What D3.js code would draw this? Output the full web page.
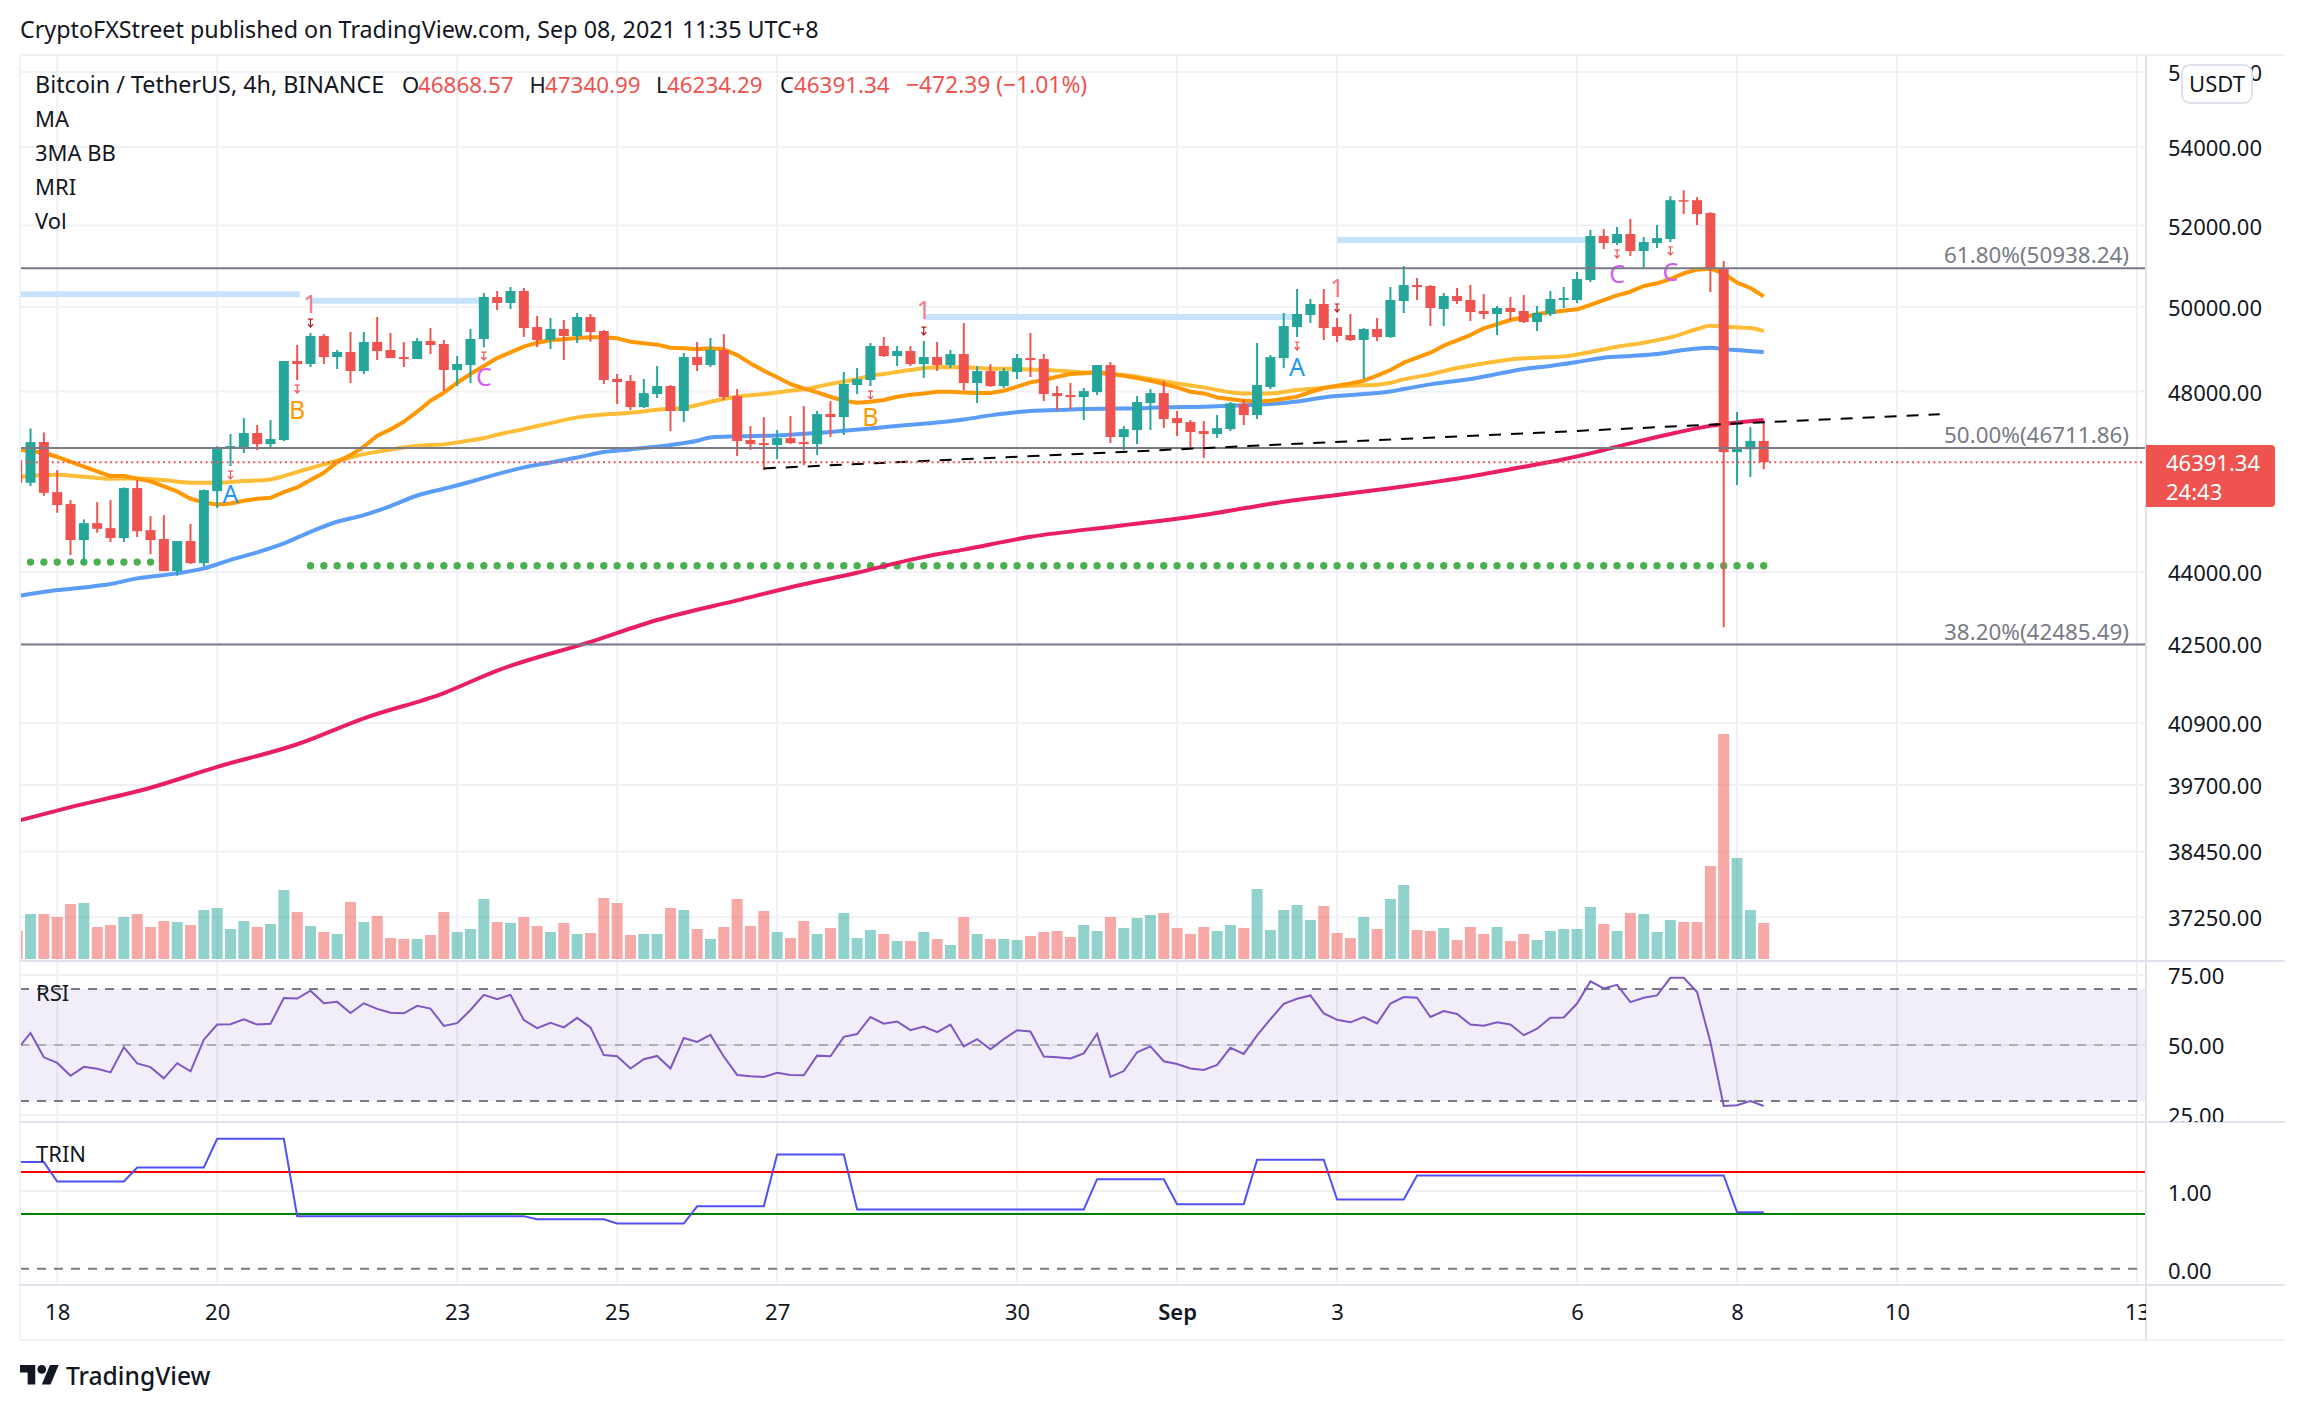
<!DOCTYPE html>
<html><head><meta charset="utf-8">
<script src="https://cdn.jsdelivr.net/npm/d3@7/dist/d3.min.js"></script>
<style>html,body{margin:0;background:#fff}svg{display:block}text{font-family:"Noto Sans",sans-serif}</style>
</head><body><svg id="c" width="2306" height="1410"></svg>
<script>
// ---- data (bars start at index -1, 4h bars)
const firstBar=-1;
const opens=[46437,45933,46844,45726,45463,44680,45047,44938,44723,45815,44895,44702,44017,44659,44186,45748,46738,46708,47047,46798,46889,48710,48640,49302,48804,48923,48476,49160,48970,48804,48757,49183,49112,48500,48616,49231,50238,50093,50383,49515,49207,49468,49302,49756,49420,48290,48243,47641,47940,48126,47550,48804,48616,48970,47894,46889,46821,46776,46934,46844,46798,47481,47412,48150,48266,49065,48828,48946,48640,48804,48616,48875,48196,48476,48126,48453,48780,48757,47963,47917,47871,47986,48616,46957,47115,47733,47963,47389,47297,47092,47024,47137,47710,47458,48103,48780,49515,49804,50069,49515,49325,49207,49468,49278,50141,50530,50506,49949,50262,50165,49900,49828,49973,49900,49635,49828,50165,50165,50652,51737,51563,51788,51365,51563,51662,52640,52640,52314,50946,46618,46678,46868.57];
const highs=[46480,47152,47062,46215,45550,45127,45506,45550,45829,45992,45200,45222,44659,45032,45785,46749,47024,47389,47229,47343,48710,49088,49373,49349,48970,49397,49397,49756,49373,49160,49254,49491,49207,48828,49468,50334,50383,50481,50457,49780,49732,49684,49852,49828,49444,48406,48383,48290,48593,48150,48899,49160,49254,49349,48056,47206,47412,47115,47435,47664,47550,47779,48453,48546,49136,49278,49065,49065,49183,49160,48970,49611,48593,48640,48546,48875,49373,48875,48126,48196,48080,48616,48686,47206,47894,48056,48243,47550,47343,47320,47458,47756,47825,49136,48851,49852,50432,50190,50432,49732,49828,49491,49732,50481,50995,50701,50530,50334,50457,50530,50310,50021,50238,50286,50021,50383,50481,50848,51888,51913,51963,52168,51712,52013,52741,52893,52717,52339,51117,47527,47182,47340.99];
const lows=[45900,45859,45645,45273,44357,44165,44838,44637,44637,44745,44379,44017,43918,44165,44116,45375,46304,46595,46663,46730,46866,48266,48570,48640,48523,48196,48406,48733,48780,48570,48757,48875,48010,48126,48196,49033,49925,49949,49278,49041,48994,48733,49136,49168,48173,47710,47572,47618,47848,47092,47297,48476,48570,47802,46527,46663,46215,46460,46798,46326,46550,46957,47002,47940,48126,48804,48593,48593,48313,48476,48546,48033,47733,48103,48080,48290,48336,47779,47572,47595,47343,47917,46821,46663,46798,47115,47160,46979,46685,46482,46934,47092,47229,47366,48056,48546,49278,49611,49207,49160,49183,48290,49183,49254,49852,50165,49539,49539,50069,49660,49708,49325,49684,49611,49420,49780,49973,50093,50603,51413,51513,51241,50946,51439,51588,52289,52013,50358,42843,45881,46059,46234.29];
const closes=[45933,46844,45711,45441,44680,45047,44924,44723,45815,44874,44680,44017,44659,44186,45770,46704,46753,47047,46798,46911,48710,48640,49302,48804,48923,48476,49160,48946,48780,48757,49183,49088,48500,48640,49231,50238,50093,50383,49491,49207,49468,49302,49756,49397,48266,48220,47641,47963,48126,47550,48804,48616,48970,47871,46866,46798,46776,46934,46821,46798,47481,47412,48173,48290,49065,48828,48946,48640,48804,48616,48875,48196,48476,48126,48476,48780,48733,47940,47894,47871,48010,48616,46957,47137,47756,47963,47366,47274,47070,47024,47160,47726,47458,48150,48804,49539,49828,50069,49491,49302,49207,49468,49278,50165,50530,50481,49973,50262,50141,49876,49828,49973,49876,49635,49852,50190,50214,50677,51737,51563,51788,51365,51588,51687,52640,52616,52289,50922,46618,46685,46868.57,46391.34];
const volumes=[28,45,45,42,55,56,32,34,42,45,32,38,37,34,49,51,30,38,32,35,69,47,33,27,25,57,37,43,21,20,20,24,47,27,30,60,37,36,42,33,27,36,25,26,61,56,24,25,25,51,49,30,20,32,60,33,48,27,21,38,25,31,46,21,29,25,18,18,27,20,14,42,25,20,20,19,23,27,28,22,34,28,42,31,41,44,46,31,25,32,28,34,31,70,29,49,54,39,53,26,21,42,30,60,74,29,28,31,19,32,25,32,18,25,19,28,30,30,52,35,28,46,45,27,39,37,37,93,225,101,49,36];
const fastBars=[-1,1,2,4,6,7,9,11,12,13,14,15,16,17,18,19,20,21,22,23,24,25,26,27,28,29,30,31,32,33,34,35,36,37,38,39,40,41,42,43,44,45,46,47,48,49,50,51,52,53,54,55,56,57,58,59,60,61,62,63,64,65,66,67,68,69,70,71,72,73,74,75,76,77,78,79,80,81,82,83,84,85,86,87,88,89,91,92,93,95,96,97,99,100,101,102,103,105,106,108,109,111,112,113,114,115,116,117,118,119,120,121,122,123,124,125,126,127,128,129,130];
const fastMA=[46678,46603,46512,46289,46081,46081,45963,45741,45579,45499,45455,45477,45536,45579,45601,45726,45829,45992,46155,46393,46550,46738,46987,47130,47305,47534,47787,47971,48204,48406,48593,48780,48915,49049,49144,49199,49223,49254,49270,49270,49246,49168,49128,49097,49025,49010,48986,49010,48986,48851,48655,48484,48329,48173,48072,47979,47879,47787,47741,47764,47802,47879,47924,47955,47994,47994,47979,47963,47963,48017,48111,48212,48266,48344,48406,48422,48453,48406,48367,48313,48251,48173,48095,47994,47955,47863,47787,47771,47787,47879,47986,48080,48188,48251,48367,48500,48671,48907,49073,49325,49484,49684,49748,49828,49868,49908,49941,50045,50165,50278,50367,50506,50571,50677,50816,50905,50930,50816,50587,50457,50253];
const midBars=[-1,1,2,4,6,8,10,12,14,16,18,19,20,21,22,23,24,25,26,28,30,31,32,33,34,35,37,39,41,43,44,45,47,49,50,51,53,55,57,58,59,60,62,63,64,66,68,70,72,74,76,78,80,82,84,86,88,89,91,93,95,97,99,101,102,103,105,107,109,111,113,115,117,119,121,123,125,126,127,129,130];
const midMA=[46052,46104,46111,46067,46022,46029,45992,45933,45933,45970,46007,46081,46170,46259,46341,46422,46497,46572,46625,46723,46776,46791,46836,46881,46934,47009,47137,47274,47404,47473,47488,47511,47580,47626,47687,47764,47879,47940,48017,48049,48111,48173,48290,48367,48406,48500,48562,48562,48531,48523,48500,48468,48422,48383,48290,48188,48095,48033,47955,47955,48033,48087,48134,48157,48204,48282,48398,48546,48655,48749,48788,48820,48923,49049,49144,49270,49468,49547,49523,49491,49420];
const slowBars=[-1,2,4,6,8,11,13,15,17,19,21,23,25,27,29,31,33,35,37,39,41,43,45,48,50,51,53,56,59,61,63,66,68,70,72,75,77,79,81,83,85,88,91,93,95,97,100,102,103,105,108,110,112,114,116,118,120,122,124,126,127,130];
const slowMA=[43489,43615,43671,43742,43862,43968,44074,44257,44415,44608,44859,45077,45222,45419,45652,45800,45955,46126,46274,46385,46497,46618,46678,46776,46874,46949,46972,46994,47047,47099,47152,47236,47289,47358,47450,47550,47572,47595,47603,47611,47634,47649,47680,47710,47771,47863,47940,48002,48056,48165,48290,48406,48523,48593,48686,48788,48828,48875,48970,49025,48994,48923];
const longBars=[-1,3,9,14,20,25,31,35,42,47,53,58,62,65,67,70,75,82,88,91,94,98,102,105,108,111,115,118,120,123,126,130];
const longMA=[39020,39280,39650,40050,40490,41000,41503,41955,42540,42990,43400,43738,43981,44192,44319,44475,44750,45000,45224,45370,45515,45663,45812,45936,46070,46234,46456,46662,46815,47027,47210,47347];
const rsiValues=[48.4,54.3,45.6,43.6,39.0,42.2,41.5,40.2,49.2,43.4,42.1,38.1,43.5,40.6,51.9,57.3,57.4,59.2,57.3,57.6,66.8,66.6,69.4,64.9,65.4,61.4,64.9,62.9,61.5,61.3,64.0,63.0,56.8,57.8,62.5,67.9,66.4,67.9,58.9,56.0,57.9,56.3,59.7,56.3,46.4,46.0,41.6,44.9,46.1,41.6,52.5,51.1,53.6,45.9,39.3,38.8,38.6,40.1,39.3,39.2,46.2,46.0,52.9,53.9,60.0,57.6,58.4,55.3,56.6,54.6,57.3,49.5,52.1,48.5,52.1,55.3,54.8,45.9,45.6,45.2,47.0,54.0,38.6,40.7,47.4,49.5,44.2,43.2,41.6,41.1,42.9,49.0,46.8,53.4,59.2,64.7,66.5,67.7,61.3,59.0,58.1,60.0,57.7,64.8,67.1,66.9,60.0,62.1,61.1,57.3,56.9,58.1,57.3,53.5,55.8,59.7,59.8,64.8,72.7,70.2,71.5,65.3,66.9,67.7,74.0,74.0,68.9,51.1,28.2,28.5,30.0,28.2];
const trinValues=[1.37,1.37,1.37,1.12,1.12,1.12,1.12,1.12,1.12,1.30,1.30,1.30,1.30,1.30,1.30,1.67,1.67,1.67,1.67,1.67,1.67,.676,.676,.676,.676,.676,.676,.676,.676,.676,.676,.676,.676,.676,.676,.676,.676,.676,.676,.635,.635,.635,.635,.635,.635,.581,.581,.581,.581,.581,.581,.802,.802,.802,.802,.802,.802,1.468,1.468,1.468,1.468,1.468,1.468,.761,.761,.761,.761,.761,.761,.761,.761,.761,.761,.761,.761,.761,.761,.761,.761,.761,.761,1.15,1.15,1.15,1.15,1.15,1.15,.83,.83,.83,.83,.83,.83,1.40,1.40,1.40,1.40,1.40,1.40,.89,.89,.89,.89,.89,.89,1.198,1.198,1.198,1.198,1.198,1.198,1.198,1.198,1.198,1.198,1.198,1.198,1.198,1.198,1.198,1.198,1.198,1.198,1.198,1.198,1.198,1.198,1.198,1.198,.727,.727,.727];
const priceTicks=[56000,54000,52000,50000,48000,44000,42500,40900,39700,38450,37250];
const rsiTicks=[75,50,25], rsiLevels=[70,50,30];
const trinTicks=[1,0], trinHigh=1.243, trinLow=.703;
const dateBars=[2,14,32,44,56,74,86,98,116,128,140,158];
const dateLabels=["18","20","23","25","27","30","Sep","3","6","8","10","13"];
const fibLabels=["61.80%(50938.24)","50.00%(46711.86)","38.20%(42485.49)"];
const fibPrices=[50938.24,46711.86,42485.49];
const lastPrice=46391.34, lastOpen=46868.57;
const resistBars=[[-1,20.2],[21,34],[67,95],[98,117]];
const resistPrices=[50302,50149,49756,51638];
const dotsBarsA=[0,9], dotsPriceA=44208, dotsBarsB=[21,130], dotsPriceB=44130;
const trendBars=[55,143.2], trendPrices=[46252,47477];
const markTexts=["1","B","A","C","1","B","1","A","C","C"];
const markBars=[21,20,15,34,67,63,98,95,119,123];
const markPrices=[50069,47572,45681,48336,49925,47412,50457,48570,50799,50848];
const markColors=["#ef7b8a","#ff9800","#2196f3","#d35cf5","#ef7b8a","#ff9800","#ef7b8a","#2196f3","#d35cf5","#d35cf5"];
const arrowPrices=[49611,48056,46104,48828,49420,47917,49973,49065,51290,51365];
const arrowColors=["#b71c1c","#ef5350","#ef5350","#ef5350","#b71c1c","#ef5350","#b71c1c","#ef5350","#ef5350","#ef5350"];
const legendRows=["MA","3MA BB","MRI","Vol"];

// ---- layout
const L=20,R=2146,FR=2285,T=56,P1=961,P2=1122,P3=1285,B=1340;
const GRID="#f0f1f4",SEP="#e0e3eb",INK="#131722",GRAY="#787b86",UP="#26a69a",DN="#ef5350";
const x=d3.scaleLinear().domain([2,158]).range([57.2,2137]);
const y=d3.scaleLog().domain([54000,42500]).range([147.3,643.8]);
const yV=d3.scaleLinear().domain([0,225]).range([959,734]);
const yR=d3.scaleLinear().domain([30,70]).range([1101,989]);
const yT=d3.scaleLinear().domain([0,1]).range([1268.8,1190.9]);
const bars=d3.range(opens.length).map(k=>({i:k+firstBar,o:opens[k],h:highs[k],l:lows[k],c:closes[k],v:volumes[k],up:closes[k]>=opens[k]}));
const svg=d3.select("#c");
const defs=svg.append("defs");
const clip=(id,x0,y0,x1,y1)=>defs.append("clipPath").attr("id",id).append("rect").attr("x",x0).attr("y",y0).attr("width",x1-x0).attr("height",y1-y0);
clip("main",L,T,R,P1);clip("rsi",L,P1,R,P2);clip("trin",L,P2,R,P3);clip("axR",0,P1,200,P2);clip("axX",L,P3,R,B);
const hl=(g,yy,c,w,dash,x0=L,x1=R)=>g.append("line").attr("x1",x0).attr("x2",x1).attr("y1",yy).attr("y2",yy).attr("stroke",c).attr("stroke-width",w).attr("stroke-dasharray",dash||null);
svg.append("text").attr("x",20).attr("y",38).attr("font-size",23.3).attr("fill",INK).text("CryptoFXStreet published on TradingView.com, Sep 08, 2021 11:35 UTC+8");

// grid
const grid=svg.append("g");
dateBars.forEach(d=>grid.append("line").attr("x1",x(d)).attr("x2",x(d)).attr("y1",T).attr("y2",P3).attr("stroke",GRID).attr("stroke-width",2));
priceTicks.forEach(p=>hl(grid,y(p),GRID,2));
rsiTicks.forEach(v=>hl(grid,yR(v),GRID,2));
hl(grid,yT(1),GRID,2);

// main pane
const m=svg.append("g").attr("clip-path","url(#main)");
m.selectAll("rect.vol").data(bars).join("rect").attr("class","vol").attr("x",d=>x(d.i)-5.5).attr("width",11).attr("y",d=>yV(d.v)).attr("height",d=>yV(0)-yV(d.v)).attr("fill",d=>d.up?UP:DN).attr("opacity",.5);
resistBars.forEach((r,k)=>m.append("line").attr("x1",x(r[0])).attr("x2",x(r[1])).attr("y1",y(resistPrices[k])).attr("y2",y(resistPrices[k])).attr("stroke","#c6e3fb").attr("stroke-width",6));
const dotGroup=(range,p)=>m.selectAll(null).data(d3.range(range[0],range[1]+1)).join("circle").attr("cx",d=>x(d)).attr("cy",y(p)).attr("r",3.7).attr("fill","#4caf50");
dotGroup(dotsBarsA,dotsPriceA);dotGroup(dotsBarsB,dotsPriceB);
const line=d3.line().x(d=>x(d[0])).y(d=>y(d[1])).curve(d3.curveLinear);
const smooth=d3.line().x(d=>x(d[0])).y(d=>y(d[1])).curve(d3.curveMonotoneX);
const ma=(xs,ys,c,gen)=>m.append("path").attr("d",gen(xs.map((b,k)=>[b,ys[k]]))).attr("fill","none").attr("stroke",c).attr("stroke-width",4).attr("stroke-linejoin","round");
ma(longBars,longMA,"#e91e63",smooth);ma(slowBars,slowMA,"#5b9cf6",smooth);ma(midBars,midMA,"#fdbd36",smooth);ma(fastBars,fastMA,"#ff9800",line);
markTexts.forEach((t,k)=>m.append("text").attr("x",x(markBars[k])).attr("y",y(markPrices[k])).attr("dy","0.36em").attr("text-anchor","middle").attr("font-size",25).attr("fill",markColors[k]).text(t));
arrowPrices.forEach((p,k)=>{const cx=x(markBars[k]),cy=y(p);m.append("path").attr("d",`M${cx-2.5},${cy-4}H${cx+2.5}M${cx},${cy-4}V${cy+3}M${cx-2.5},${cy+1}L${cx},${cy+4}L${cx+2.5},${cy+1}`).attr("fill","none").attr("stroke",arrowColors[k]).attr("stroke-width",1.2);});
const cg=m.selectAll("g.c").data(bars).join("g").attr("class","c");
cg.append("line").attr("x1",d=>x(d.i)).attr("x2",d=>x(d.i)).attr("y1",d=>y(d.h)).attr("y2",d=>y(d.l)).attr("stroke",d=>d.up?UP:DN).attr("stroke-width",2);
cg.append("rect").attr("x",d=>x(d.i)-5).attr("width",10).attr("y",d=>y(Math.max(d.o,d.c))).attr("height",d=>Math.max(1.5,Math.abs(y(d.o)-y(d.c)))).attr("fill",d=>d.up?UP:DN);
fibPrices.forEach((p,k)=>{hl(m,y(p),GRAY,2);m.append("text").attr("x",2129).attr("y",y(p)-5).attr("text-anchor","end").attr("font-size",22.4).attr("fill",GRAY).text(fibLabels[k]);});
m.append("path").attr("d",line(trendBars.map((b,k)=>[b,trendPrices[k]]))).attr("fill","none").attr("stroke","#000").attr("stroke-width",2).attr("stroke-dasharray","12 10");
hl(m,y(lastPrice),DN,2,"2 3.3");

// RSI pane
const r=svg.append("g").attr("clip-path","url(#rsi)");
r.append("rect").attr("x",L).attr("width",R-L).attr("y",yR(70)).attr("height",yR(30)-yR(70)).attr("fill","#7e57c2").attr("opacity",.1);
rsiLevels.forEach(v=>hl(r,yR(v),GRAY,2,"9 8").attr("opacity",v==50?.5:1));
r.append("path").attr("d",d3.line().x((d,k)=>x(k+firstBar)).y(d=>yR(d))(rsiValues)).attr("fill","none").attr("stroke","#7e57c2").attr("stroke-width",2);

// TRIN pane
const t=svg.append("g").attr("clip-path","url(#trin)");
hl(t,yT(0),GRAY,2,"9 8");
hl(t,yT(trinHigh),"#ff0000",2);hl(t,yT(trinLow),"#008000",2);
t.append("path").attr("d",d3.line().x((d,k)=>x(k+firstBar)).y(d=>yT(d))(trinValues)).attr("fill","none").attr("stroke","#5050f5").attr("stroke-width",2);

// frame
const fr=svg.append("g");
hl(fr,T-1,GRID,2,null,L,FR);hl(fr,B,GRID,2,null,L,FR);
fr.append("line").attr("x1",L).attr("x2",L).attr("y1",T).attr("y2",B).attr("stroke",GRID).attr("stroke-width",2);
[P1,P2,P3].forEach(v=>hl(fr,v,SEP,2,null,L,FR));
fr.append("line").attr("x1",R).attr("x2",R).attr("y1",T).attr("y2",B).attr("stroke",SEP).attr("stroke-width",2);

// axes
const styleAxis=g=>{g.select(".domain").remove();g.selectAll("text").attr("font-size",22).attr("fill",INK).style("font-family",'"Noto Sans",sans-serif');};
svg.append("g").attr("transform",`translate(${R},1.5)`).call(d3.axisRight(y).tickValues(priceTicks).tickFormat(d3.format(".2f")).tickSize(0).tickPadding(22)).call(styleAxis);
const rsiAxis=svg.append("g").attr("clip-path","url(#axR)").attr("transform",`translate(${R},0)`).call(d3.axisRight(yR).tickValues(rsiTicks).tickFormat(d3.format(".2f")).tickSize(0).tickPadding(22)).call(styleAxis);
rsiAxis.selectAll("text").attr("transform","translate(0,1.5)");
svg.append("g").attr("transform",`translate(${R},2.5)`).call(d3.axisRight(yT).tickValues(trinTicks).tickFormat(d3.format(".2f")).tickSize(0).tickPadding(22)).call(styleAxis);
const xa=svg.append("g").attr("transform",`translate(0,${P3})`).call(d3.axisBottom(x).tickValues(dateBars).tickFormat((d,k)=>dateLabels[k]).tickSize(0).tickPadding(19)).call(styleAxis);
svg.append("g").attr("clip-path","url(#axX)").node().appendChild(xa.node());
xa.selectAll("text").filter(function(){return this.textContent==="Sep";}).attr("font-weight",600);

// price tag + currency button
svg.append("path").attr("d",`M${R},445H2271a4,4 0 0 1 4,4V503a4,4 0 0 1 -4,4H${R}Z`).attr("fill",DN);
svg.append("text").attr("x",2166).attr("y",471).attr("font-size",22).attr("fill","#fff").text(d3.format(".2f")(lastPrice));
svg.append("text").attr("x",2166).attr("y",500).attr("font-size",22).attr("fill","#fff").text("24:43");
svg.append("rect").attr("x",2182).attr("y",65).attr("width",70).attr("height",38).attr("rx",8).attr("fill","#fff").attr("stroke",SEP).attr("stroke-width",2);
svg.append("text").attr("x",2217).attr("y",92).attr("text-anchor","middle").attr("font-size",22).attr("fill",INK).text("USDT");

// legend
svg.append("text").attr("x",35).attr("y",93).attr("font-size",23.3).attr("fill",INK).text("Bitcoin / TetherUS, 4h, BINANCE");
const ohlc=[["O",402,lastOpen,418],["H",529.5,highs[highs.length-1],545],["L",656,lows[lows.length-1],667],["C",780,lastPrice,794]];
ohlc.forEach(o=>{svg.append("text").attr("x",o[1]).attr("y",93).attr("font-size",22).attr("fill",INK).text(o[0]);svg.append("text").attr("x",o[3]).attr("y",93).attr("font-size",22.4).attr("fill",DN).text(d3.format(".2f")(o[2]));});
svg.append("text").attr("x",906).attr("y",93).attr("font-size",22.8).attr("fill",DN).text("−472.39 (−1.01%)");
legendRows.forEach((s,k)=>svg.append("text").attr("x",35).attr("y",127+34*k).attr("font-size",22).attr("fill",INK).text(s));
svg.append("text").attr("x",36).attr("y",1001).attr("font-size",22).attr("fill",INK).text("RSI");
svg.append("text").attr("x",36).attr("y",1162).attr("font-size",22).attr("fill",INK).text("TRIN");

// logo
const lg=svg.append("g").attr("transform","translate(20,1360.6) scale(1.09)").attr("fill",INK);
lg.append("path").attr("d","M14 22H7V11H0V4h14v18zM28 22h-8l7.5-18h8L28 22z");
lg.append("circle").attr("cx",20).attr("cy",8).attr("r",4);
svg.append("text").attr("x",66).attr("y",1385).attr("font-size",24.6).attr("font-weight",500).attr("fill",INK).text("TradingView");
</script></body></html>
